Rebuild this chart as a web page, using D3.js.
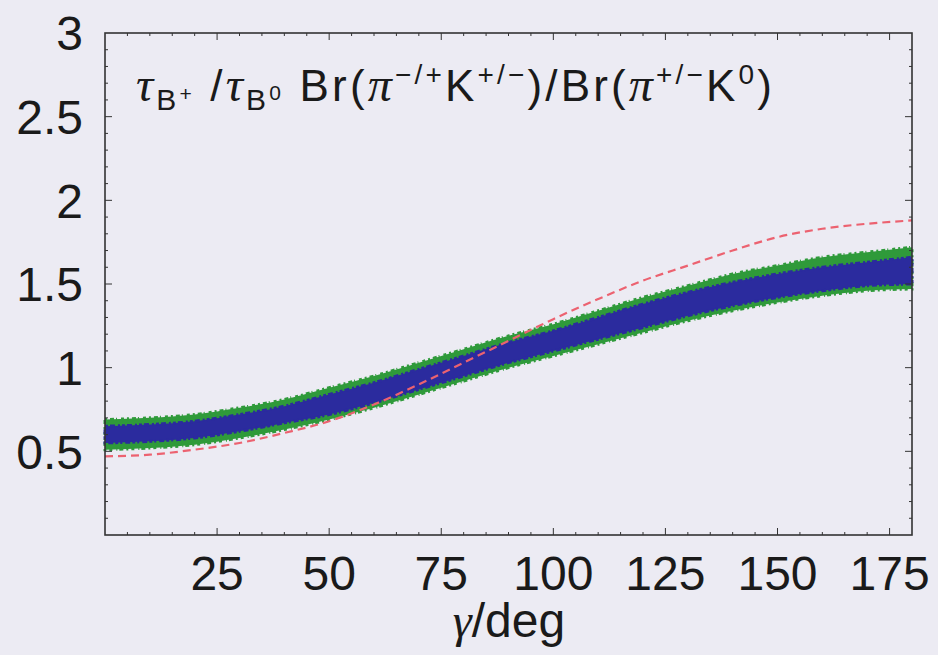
<!DOCTYPE html>
<html>
<head>
<meta charset="utf-8">
<script src="https://cdn.jsdelivr.net/npm/d3@7"></script>
<style>
  html, body { margin: 0; padding: 0; background: #ecebf3; }
  svg { display: block; }
  .lbl { font-family: 'Liberation Sans', Arial, sans-serif; fill: #1a1a1a; }
</style>
</head>
<body>
<script>
// gamma grid (deg) and values
const gamma = [0, 10, 20, 30, 40, 50, 60, 70, 80, 90, 100, 110, 120, 130, 140, 150, 160, 170, 180]
const greenLo = [0.51, 0.52, 0.54, 0.58, 0.63, 0.69, 0.76, 0.84, 0.92, 1.00, 1.07, 1.14, 1.21, 1.28, 1.34, 1.39, 1.43, 1.46, 1.47]
const greenHi = [0.69, 0.70, 0.72, 0.76, 0.81, 0.88, 0.95, 1.03, 1.11, 1.19, 1.26, 1.34, 1.42, 1.49, 1.56, 1.61, 1.66, 1.69, 1.72]
const blueLo = [0.55, 0.56, 0.58, 0.62, 0.67, 0.72, 0.79, 0.87, 0.95, 1.03, 1.10, 1.17, 1.24, 1.31, 1.37, 1.42, 1.46, 1.49, 1.50]
const blueHi = [0.65, 0.66, 0.68, 0.72, 0.77, 0.84, 0.91, 0.99, 1.07, 1.15, 1.22, 1.30, 1.38, 1.45, 1.51, 1.56, 1.60, 1.63, 1.66]
const redCurve = [0.47, 0.48, 0.51, 0.55, 0.61, 0.68, 0.78, 0.90, 1.03, 1.16, 1.29, 1.41, 1.52, 1.61, 1.70, 1.78, 1.83, 1.86, 1.88]

const xTicks = [25, 50, 75, 100, 125, 150, 175]
const yTicks = [0.5, 1, 1.5, 2, 2.5, 3]

const width = 938
const height = 655
const margin = { top: 33, right: 26, bottom: 120, left: 105 }

const svg = d3.select('body').append('svg')
  .attr('width', width)
  .attr('height', height)

const x = d3.scaleLinear().domain([0, 180]).range([margin.left, width - margin.right])
const y = d3.scaleLinear().domain([0, 3]).range([height - margin.bottom, margin.top])

const rows = gamma.map((g, i) => ({
  g,
  gl: greenLo[i],
  gh: greenHi[i],
  bl: blueLo[i],
  bh: blueHi[i],
  r: redCurve[i]
}))

const plot = svg.append('g')

// green scatter band (ragged edge via dashed outline)
plot.append('path')
  .datum(rows)
  .attr('fill', '#2f9a3a')
  .attr('stroke', '#2f9a3a')
  .attr('stroke-width', 3)
  .attr('stroke-dasharray', '2 3 4 2 1 4 3 3')
  .attr('d', d3.area().x(d => x(d.g)).y0(d => y(d.gl)).y1(d => y(d.gh)).curve(d3.curveMonotoneX))

// blue scatter band
plot.append('path')
  .datum(rows)
  .attr('fill', '#2b2b9e')
  .attr('stroke', '#2b2b9e')
  .attr('stroke-width', 3)
  .attr('stroke-dasharray', '3 2 5 3 2 2')
  .attr('d', d3.area().x(d => x(d.g)).y0(d => y(d.bl)).y1(d => y(d.bh)).curve(d3.curveMonotoneX))

// red dashed reference curve
plot.append('path')
  .datum(rows)
  .attr('fill', 'none')
  .attr('stroke', '#ec6270')
  .attr('stroke-width', 2.2)
  .attr('stroke-dasharray', '8 5')
  .attr('d', d3.line().x(d => x(d.g)).y(d => y(d.r)).curve(d3.curveMonotoneX))

// frame with inward ticks on all four sides
const frame = svg.append('g').attr('stroke', '#333').attr('fill', 'none')

frame.append('rect')
  .attr('x', x(0))
  .attr('y', y(3))
  .attr('width', x(180) - x(0))
  .attr('height', y(0) - y(3))
  .attr('stroke-width', 1.6)

const xMinor = d3.range(5, 180, 5)
const yMinor = d3.range(0.1, 3, 0.1)

xMinor.forEach(v => {
  const len = v % 25 === 0 ? 7 : 3
  frame.append('line').attr('x1', x(v)).attr('x2', x(v)).attr('y1', y(0)).attr('y2', y(0) - len).attr('stroke-width', 1)
  frame.append('line').attr('x1', x(v)).attr('x2', x(v)).attr('y1', y(3)).attr('y2', y(3) + len).attr('stroke-width', 1)
})

yMinor.forEach(v => {
  const major = Math.abs(v * 2 - Math.round(v * 2)) < 1e-6
  const len = major ? 7 : 3
  frame.append('line').attr('x1', x(0)).attr('x2', x(0) + len).attr('y1', y(v)).attr('y2', y(v)).attr('stroke-width', 1)
  frame.append('line').attr('x1', x(180)).attr('x2', x(180) - len).attr('y1', y(v)).attr('y2', y(v)).attr('stroke-width', 1)
})

// tick labels
svg.append('g').selectAll('text')
  .data(xTicks)
  .join('text')
  .attr('class', 'lbl')
  .attr('x', d => x(d))
  .attr('y', y(0) + 55)
  .attr('text-anchor', 'middle')
  .attr('font-size', 48)
  .text(d => d)

svg.append('g').selectAll('text')
  .data(yTicks)
  .join('text')
  .attr('class', 'lbl')
  .attr('x', 83)
  .attr('y', d => y(d))
  .attr('dy', '0.36em')
  .attr('text-anchor', 'end')
  .attr('font-size', 48)
  .text(d => d)

// axis title
const xt = svg.append('text')
  .attr('class', 'lbl')
  .attr('x', 509)
  .attr('y', 637)
  .attr('text-anchor', 'middle')
  .attr('font-size', 48)
xt.append('tspan').attr('font-family', "'Liberation Serif', serif").attr('font-style', 'italic').text('γ')
xt.append('tspan').text('/deg')

// in-plot formula label
const serif = "'Liberation Serif', serif"
const parts = [
  { t: 'τ', s: 48, o: 0, f: serif, i: true },
  { t: 'B', s: 30, o: 9 },
  { t: '+', s: 21, o: 0 },
  { t: ' /', s: 44, o: 0 },
  { t: 'τ', s: 48, o: 0, f: serif, i: true },
  { t: 'B', s: 30, o: 9 },
  { t: '0', s: 21, o: -1 },
  { t: '  Br(', s: 44, o: 0 },
  { t: 'π', s: 48, o: 0, f: serif, i: true },
  { t: '−/+', s: 28, o: -17 },
  { t: 'K', s: 44, o: 0 },
  { t: '+/−', s: 28, o: -17 },
  { t: ')/Br(', s: 44, o: 0 },
  { t: 'π', s: 48, o: 0, f: serif, i: true },
  { t: '+/−', s: 28, o: -17 },
  { t: 'K', s: 44, o: 0 },
  { t: '0', s: 28, o: -17 },
  { t: ')', s: 44, o: 0 }
]

const title = svg.append('text')
  .attr('class', 'lbl')
  .attr('x', 136)
  .attr('y', 101)
  .attr('font-size', 44)
  .attr('textLength', 636)
  .attr('lengthAdjust', 'spacing')

let prev = 0
parts.forEach(p => {
  const ts = title.append('tspan')
    .attr('font-size', p.s)
    .attr('dy', p.o - prev)
    .text(p.t)
  if (p.f) ts.attr('font-family', p.f)
  if (p.i) ts.attr('font-style', 'italic')
  prev = p.o
})
</script>
</body>
</html>
